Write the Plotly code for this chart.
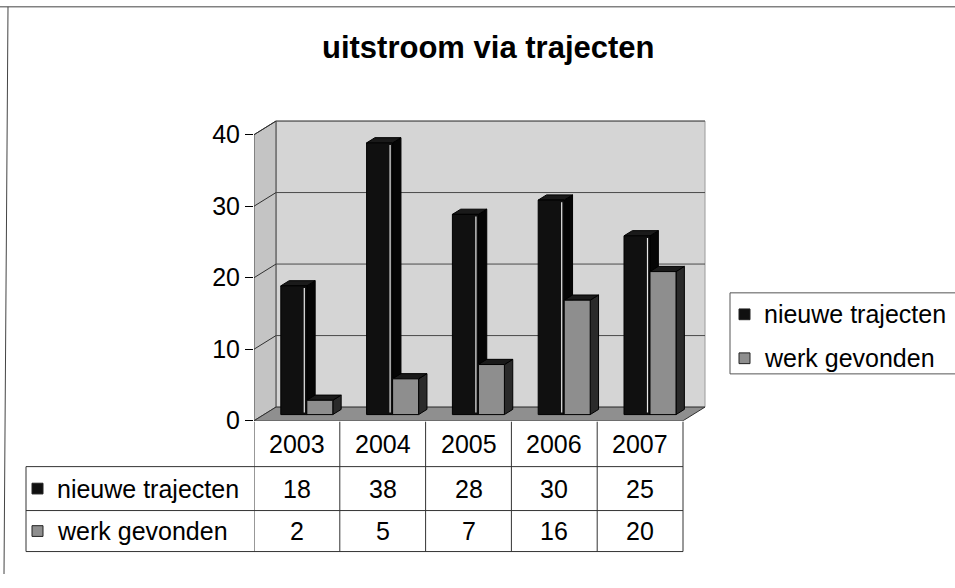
import plotly.graph_objects as go

# ---------------- data ----------------
years = ["2003", "2004", "2005", "2006", "2007"]
nieuwe = [18, 38, 28, 30, 25]
werk = [2, 5, 7, 16, 20]
series_names = ["nieuwe trajecten", "werk gevonden"]
ytick_vals = [0, 10, 20, 30, 40]
title_text = "uitstroom via trajecten"

# ---------------- geometry (pixels) ----------------
W, H = 955, 588
X0 = 254          # front-left edge of the category axis
COL = 85.8        # pixels per category
Y0 = 431          # pixel of value 0 (front plane)
PPU = 7.325       # pixels per value unit
DXP, DYP = 22, 14 # 3D depth offset in pixels
TOPPX = 108
XR = X0 + 5 * COL + DXP + 2
FONT = "Liberation Sans, Arial, sans-serif"
FS = 25

n = len(years)
idx = list(range(n))
x_range = [-0.5, -0.5 + (XR - X0) / COL]
y_range = [0, (Y0 - TOPPX) / PPU]
dx = DXP / COL
dy = DYP / PPU
ymax_wall = max(ytick_vals)


def px(x):
    return x / W


def py(y):
    return 1 - y / H


# bar placement inside the 3D box
f = 0.45
fx, fy = f * dx, f * dy
bw = 26 / COL
bdx, bdy = 0.38 * dx, 0.38 * dy
xn = [i + fx - bw / 2 for i in idx]
xw = [i + fx + bw / 2 for i in idx]

C_NIEUWE = "#101010"
C_WERK = "#8e8e8e"

fig = go.Figure()
fig.add_trace(go.Bar(x=xn, y=nieuwe, base=fy, width=bw, name=series_names[0],
                     marker=dict(color=C_NIEUWE, line=dict(color="black", width=1)),
                     showlegend=False))
fig.add_trace(go.Bar(x=xw, y=werk, base=fy, width=bw, name=series_names[1],
                     marker=dict(color=C_WERK, line=dict(color="black", width=1)),
                     showlegend=False))

shapes = []
L, R = -0.5, n - 0.5
# back wall
shapes.append(dict(type="rect", xref="x", yref="y", x0=L + dx, x1=R + dx, y0=dy, y1=ymax_wall + dy,
                   fillcolor="#d5d5d5", line=dict(color="#9a9a9a", width=1), layer="below"))
# side wall
shapes.append(dict(type="path", xref="x", yref="y",
                   path=f"M{L},{0} L{L+dx},{dy} L{L+dx},{ymax_wall+dy} L{L},{ymax_wall} Z",
                   fillcolor="#c4c4c4", line=dict(color="#404040", width=1), layer="below"))
# floor
shapes.append(dict(type="path", xref="x", yref="y",
                   path=f"M{L},0 L{R},0 L{R+dx},{dy} L{L+dx},{dy} Z",
                   fillcolor="#8f8f8f", line=dict(color="#303030", width=1), layer="below"))
# gridlines on back and side walls
for v in ytick_vals[1:]:
    shapes.append(dict(type="line", xref="x", yref="y", x0=L + dx, x1=R + dx, y0=v + dy, y1=v + dy,
                       line=dict(color="#4a4a4a", width=1), layer="below"))
    shapes.append(dict(type="line", xref="x", yref="y", x0=L, x1=L + dx, y0=v, y1=v + dy,
                       line=dict(color="#303030", width=1), layer="below"))
# side and top faces of bars
for xs, vals, side_col in ((xn, nieuwe, "#050505"), (xw, werk, "#2a2a2a")):
    for xc, v in zip(xs, vals):
        xl, xr = xc - bw / 2, xc + bw / 2
        b, t = fy, fy + v
        shapes.append(dict(type="path", xref="x", yref="y",
                           path=f"M{xr},{b} L{xr+bdx},{b+bdy} L{xr+bdx},{t+bdy} L{xr},{t} Z",
                           fillcolor=side_col, line=dict(color="black", width=1), layer="below"))
        shapes.append(dict(type="path", xref="x", yref="y",
                           path=f"M{xl},{t} L{xr},{t} L{xr+bdx},{t+bdy} L{xl+bdx},{t+bdy} Z",
                           fillcolor="#1a1a1a", line=dict(color="black", width=1), layer="below"))
# highlight edge on dark bars
for xc, v in zip(xn, nieuwe):
    xe = xc + bw / 2 - 2.5 / COL
    shapes.append(dict(type="line", xref="x", yref="y", x0=xe, x1=xe, y0=fy + 0.3, y1=fy + v - 0.3,
                       line=dict(color="#e8e8e8", width=1.2), layer="above"))

# ---------------- data table ----------------
T_LEFT = 26
T_RIGHT = X0 + n * COL
ROW_Y = [432, 478, 523, 565]
LINE = dict(color="#333333", width=1)
for yy in ROW_Y[1:]:
    shapes.append(dict(type="line", xref="paper", yref="paper", x0=px(T_LEFT), x1=px(T_RIGHT),
                       y0=py(yy), y1=py(yy), line=LINE))
shapes.append(dict(type="line", xref="paper", yref="paper", x0=px(T_LEFT), x1=px(T_LEFT),
                   y0=py(ROW_Y[1]), y1=py(ROW_Y[3]), line=LINE))
for i in range(n + 1):
    shapes.append(dict(type="line", xref="x", yref="paper", x0=i - 0.5, x1=i - 0.5,
                       y0=py(ROW_Y[0]), y1=py(ROW_Y[3]), line=LINE))

annotations = []
annotations.append(dict(text=f"<b>{title_text}</b>", xref="paper", yref="paper",
                        x=px(488), y=py(49), xanchor="center", yanchor="middle", showarrow=False,
                        font=dict(family=FONT, size=31, color="black")))
row_centers = [(ROW_Y[k] + ROW_Y[k + 1]) / 2 for k in range(3)]
for i, yr in enumerate(years):
    annotations.append(dict(text=yr, xref="x", yref="paper", x=i, y=py(row_centers[0]),
                            xanchor="center", yanchor="middle", showarrow=False,
                            font=dict(family=FONT, size=FS, color="black")))
for r, (vals, name, col) in enumerate(((nieuwe, series_names[0], C_NIEUWE),
                                       (werk, series_names[1], C_WERK))):
    yc = row_centers[r + 1]
    for i, v in enumerate(vals):
        annotations.append(dict(text=str(v), xref="x", yref="paper", x=i, y=py(yc),
                                xanchor="center", yanchor="middle", showarrow=False,
                                font=dict(family=FONT, size=FS, color="black")))
    annotations.append(dict(text=name, xref="paper", yref="paper", x=px(55), y=py(yc),
                            xanchor="left", yanchor="middle", showarrow=False,
                            font=dict(family=FONT, size=FS, color="black")))
    shapes.append(dict(type="rect", xref="paper", yref="paper", x0=px(32), x1=px(43),
                       y0=py(yc + 5.5), y1=py(yc - 5.5), fillcolor=col,
                       line=dict(color="#222", width=1)))

# ---------------- legend (manual) ----------------
LEG_Y = [322, 367]
shapes.append(dict(type="rect", xref="paper", yref="paper", x0=px(730), x1=px(962),
                   y0=py(383), y1=py(300), line=dict(color="#555555", width=1)))
for name, col, yc in zip(series_names, (C_NIEUWE, C_WERK), LEG_Y):
    shapes.append(dict(type="rect", xref="paper", yref="paper", x0=px(739), x1=px(750),
                       y0=py(yc + 5.5), y1=py(yc - 5.5), fillcolor=col,
                       line=dict(color="#222", width=1)))
    annotations.append(dict(text=name, xref="paper", yref="paper", x=px(762), y=py(yc),
                            xanchor="left", yanchor="middle", showarrow=False,
                            font=dict(family=FONT, size=FS, color="black")))

# ---------------- chart border ----------------
shapes.append(dict(type="line", xref="paper", yref="paper", x0=0, x1=1, y0=py(7), y1=py(7),
                   line=dict(color="#444444", width=1)))
shapes.append(dict(type="line", xref="paper", yref="paper", x0=px(8), x1=px(4), y0=py(7), y1=0,
                   line=dict(color="#444444", width=1)))

fig.update_layout(
    width=W, height=H,
    margin=dict(l=0, r=0, t=0, b=0),
    paper_bgcolor="white", plot_bgcolor="rgba(0,0,0,0)",
    barmode="overlay",
    showlegend=False,
    shapes=shapes,
    annotations=annotations,
    xaxis=dict(domain=[px(X0), px(XR)], range=x_range, visible=False, fixedrange=True),
    yaxis=dict(domain=[py(Y0), py(TOPPX)], range=y_range, tickvals=ytick_vals,
               ticks="outside", ticklen=8, tickcolor="black", tickwidth=1,
               showgrid=False, zeroline=False, showline=False,
               tickfont=dict(family=FONT, size=FS, color="black"), fixedrange=True),
    font=dict(family=FONT, color="black"),
)

PAGE_CSS_JS = (
    "var d=document.documentElement,b=document.body;"
    "[d,b].forEach(function(e){e.style.margin='0';e.style.padding='0';e.style.overflow='hidden';});"
)
fig.write_html("out.html", config={"displayModeBar": False}, post_script=PAGE_CSS_JS)
